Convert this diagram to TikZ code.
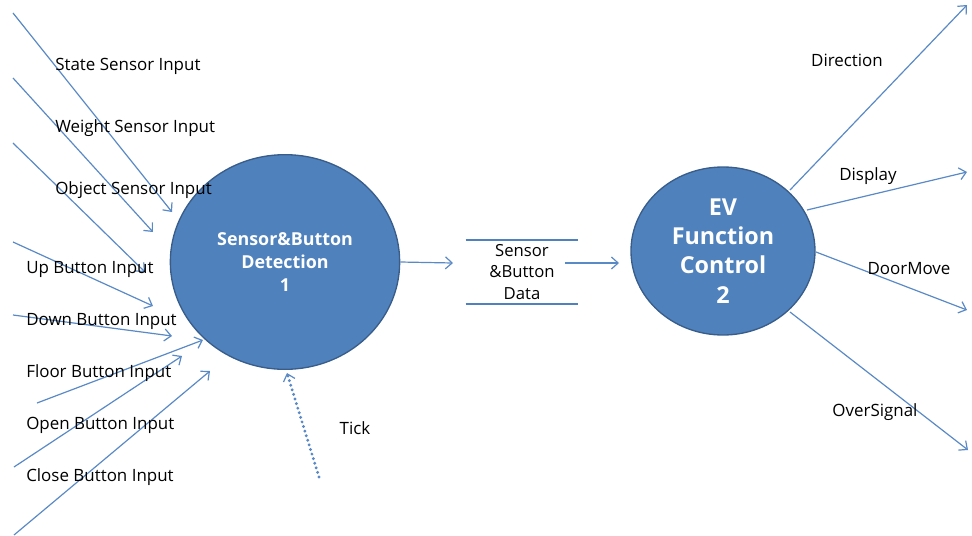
\documentclass[tikz,border=0pt]{standalone}
\usepackage{fontspec}
\setmainfont{Open Sans}
\usetikzlibrary{arrows.meta,shapes.geometric}
\definecolor{bubblefill}{HTML}{4F81BD}
\definecolor{bubbleline}{HTML}{385D8A}
\definecolor{flowline}{HTML}{5A8AC6}
\tikzset{
  bubble/.style={ellipse, fill=bubblefill, draw=bubbleline, line width=1pt,
    text=white, align=center, inner sep=0pt},
  flow/.style={flowline, line width=0.9pt, -{Straight Barb[length=5pt,width=9pt,line width=0.9pt]}},
  lbl/.style={font=\fontsize{12.7}{14}\selectfont, inner sep=0pt},
}
\begin{document}
\begin{tikzpicture}[x=0.75pt, y=-0.75pt]
    \useasboundingbox (0,0) rectangle (972,536);

    % Prozesse
    \node[bubble, minimum width=172pt, minimum height=161pt,
          font=\fontsize{13.4}{17.6}\selectfont\bfseries]
          (det) at (285,262) {Sensor\&Button\\Detection\\1};
    \node[bubble, minimum width=138pt, minimum height=126pt,
          font=\fontsize{17.5}{22}\selectfont\bfseries]
          (ctl) at (723,251) {EV\\Function\\Control\\2};

    % Datenspeicher
    \node[lbl, align=center, minimum width=84pt, minimum height=47pt,
          font=\fontsize{12.5}{15.8}\selectfont] (store) at (522,272) {Sensor\\\&Button\\Data};
    \draw[bubblefill, line width=1.4pt] (store.north west) -- (store.north east);
    \draw[bubblefill, line width=1.4pt] (store.south west) -- (store.south east);

    % Eingaenge
    \foreach \name/\sx/\sy/\tx/\ty in {state/13/13/172/212, weight/13/78/153/232,
        object/13/143/145/272, up/13/242/153/306, down/13/315/172/336,
        floor/37/403/203/340, open/14/467/182/356, close/14/535/210/371} {
      \coordinate (\name-src) at (\sx,\sy);
      \coordinate (\name-dst) at (\tx,\ty);
      \draw[flow] (\name-src) -- (\name-dst);
    }
    \node[lbl, anchor=west] (state-lbl)  at (55,66)  {State Sensor Input};
    \node[lbl, anchor=west] (weight-lbl) at (55,128) {Weight Sensor Input};
    \node[lbl, anchor=west] (object-lbl) at (55,190) {Object Sensor Input};
    \node[lbl, anchor=west] (up-lbl)     at (26,269) {Up Button Input};
    \node[lbl, anchor=west] (down-lbl)   at (26,321) {Down Button Input};
    \node[lbl, anchor=west] (floor-lbl)  at (26,373) {Floor Button Input};
    \node[lbl, anchor=west] (open-lbl)   at (26,425) {Open Button Input};
    \node[lbl, anchor=west] (close-lbl)  at (26,477) {Close Button Input};

    % Takt
    \coordinate (tick-src) at (319,477);
    \coordinate (tick-dst) at (287,373);
    \draw[flow, line width=2.4pt, dash pattern=on 0pt off 3.6pt, line cap=round] (tick-src) -- (tick-dst);
    \node[lbl] (tick-lbl) at (355,428) {Tick};

    % Datenfluss
    \coordinate (store-in) at (453,263);
    \coordinate (store-out) at (565,263);
    \coordinate (ctl-in) at (619,263);
    \draw[flow] (det.east) -- (store-in);
    \draw[flow] (store-out) -- (ctl-in);

    % Ausgaenge
    \foreach \name/\sx/\sy/\tx/\ty in {direction/790/190/967/5, display/807/210/967/172,
        doormove/816/252/967/310, oversignal/790/312/968/450} {
      \coordinate (\name-src) at (\sx,\sy);
      \coordinate (\name-dst) at (\tx,\ty);
      \draw[flow] (\name-src) -- (\name-dst);
    }
    \node[lbl] (direction-lbl)  at (847,60)  {Direction};
    \node[lbl] (display-lbl)    at (868,176) {Display};
    \node[lbl] (doormove-lbl)   at (909,269) {DoorMove};
    \node[lbl] (oversignal-lbl) at (875,412) {OverSignal};
\end{tikzpicture}
\end{document}
